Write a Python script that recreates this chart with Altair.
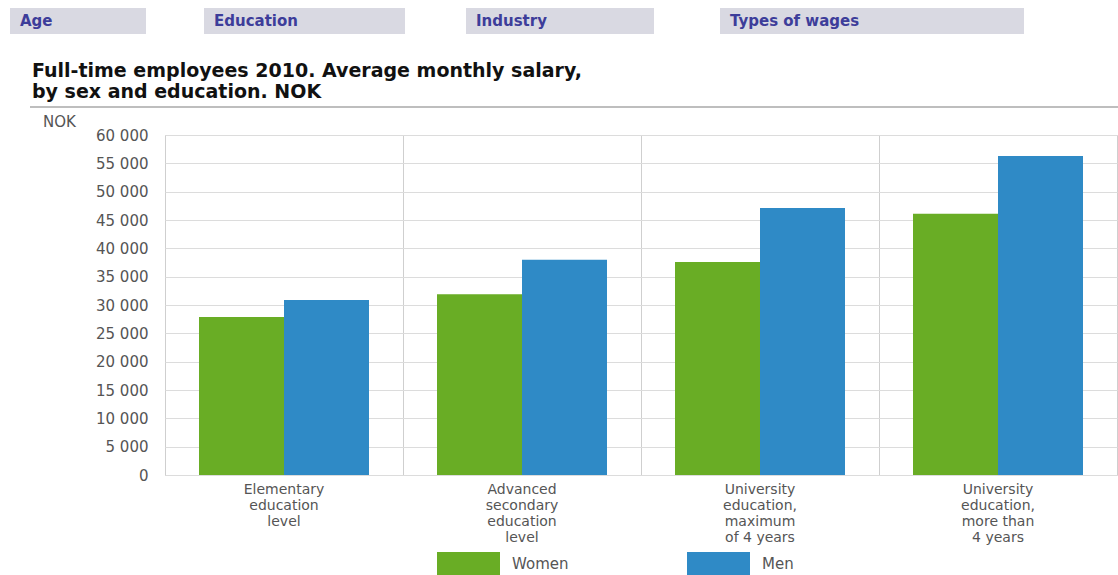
import altair as alt
import pandas as pd

# ---- data ----
categories = [
    "Elementary\neducation\nlevel",
    "Advanced\nsecondary\neducation\nlevel",
    "University\neducation,\nmaximum\nof 4 years",
    "University\neducation,\nmore than\n4 years",
]
sexes = ["Women", "Men"]
women = [27900, 31900, 37600, 46100]
men = [30900, 38000, 47100, 56300]
y_ticks = list(range(0, 60001, 5000))
tabs = ["Age", "Education", "Industry", "Types of wages"]
title_lines = ["Full-time employees 2010. Average monthly salary,",
               "by sex and education. NOK"]
unit = "NOK"

rows = []
for c, w, m in zip(categories, women, men):
    rows.append({"category": c, "sex": "Women", "salary": w})
    rows.append({"category": c, "sex": "Men", "salary": m})
df = pd.DataFrame(rows)

FONT = "DejaVu Sans"
GREEN = "#69ad25"
BLUE = "#2f8ac6"
W, H = 952, 340

bars = alt.Chart(df).mark_bar().encode(
    x=alt.X("category:N", sort=categories, title=None,
            scale=alt.Scale(paddingInner=0, paddingOuter=0),
            axis=alt.Axis(labelAngle=0, labelExpr="split(datum.label, '\\n')",
                          labelFont=FONT, labelFontSize=14, labelColor="#555",
                          labelLineHeight=16, labelPadding=7,
                          labelBaseline="top",
                          domain=False, ticks=False, grid=True,
                          bandPosition=0, gridColor="#cfcfcf")),
    xOffset=alt.XOffset("sex:N", sort=sexes,
                        scale=alt.Scale(paddingInner=0, paddingOuter=0.4)),
    y=alt.Y("salary:Q", title=None,
            scale=alt.Scale(domain=[0, 60000], nice=False),
            axis=alt.Axis(values=y_ticks,
                          labelExpr="replace(format(datum.value, ',d'), ',', ' ')",
                          labelFont=FONT, labelFontSize=15, labelColor="#555",
                          labelPadding=17, domain=False, ticks=False,
                          gridColor="#dcdcdc")),
    color=alt.Color("sex:N", sort=sexes,
                    scale=alt.Scale(domain=sexes, range=[GREEN, BLUE]),
                    legend=alt.Legend(title=None, orient="none", direction="horizontal",
                                      legendX=272, legendY=397,
                                      symbolType="M-1,-0.365H1V0.365H-1Z",
                                      symbolSize=3969, symbolStrokeWidth=0,
                                      symbolOpacity=1,
                                      labelFont=FONT, labelFontSize=15,
                                      labelColor="#555", labelOffset=12,
                                      columnPadding=118, padding=0)),
)

one = alt.Data(values=[{}])
layers = [bars]

# tab boxes (decoration above the chart)
tab_boxes = [(-155, -19), (39, 240), (301, 489), (555, 859)]
for name, (x0, x1) in zip(tabs, tab_boxes):
    layers.append(alt.Chart(one).mark_rect(color="#d9d9e2").encode(
        x=alt.value(x0), x2=alt.value(x1), y=alt.value(-127), y2=alt.value(-101)))
    layers.append(alt.Chart(one).mark_text(
        text=name, font=FONT, fontSize=15, fontWeight="bold", color="#3d3d9a",
        align="left", baseline="middle").encode(x=alt.value(x0 + 10), y=alt.value(-114)))

# title
layers.append(alt.Chart(one).mark_text(
    text=title_lines, font=FONT, fontSize=19, fontWeight="bold", color="#111",
    align="left", baseline="alphabetic", lineHeight=21).encode(
    x=alt.value(-133), y=alt.value(-58)))
# rule under title
layers.append(alt.Chart(one).mark_rule(color="#a8a8a8", strokeWidth=1.5).encode(
    x=alt.value(-135), x2=alt.value(953), y=alt.value(-28)))
# unit label
layers.append(alt.Chart(one).mark_text(
    text=unit, font=FONT, fontSize=15, color="#555",
    align="left", baseline="alphabetic").encode(x=alt.value(-122), y=alt.value(-8)))

chart = alt.layer(*layers).properties(
    width=W, height=H,
    padding={"left": 165, "top": 135, "right": 1, "bottom": 100},
    autosize=alt.AutoSizeParams(type="none"),
    background="white",
).configure_view(stroke="#cfcfcf")

chart.save("out.html", embed_options={"renderer": "svg", "actions": False})
